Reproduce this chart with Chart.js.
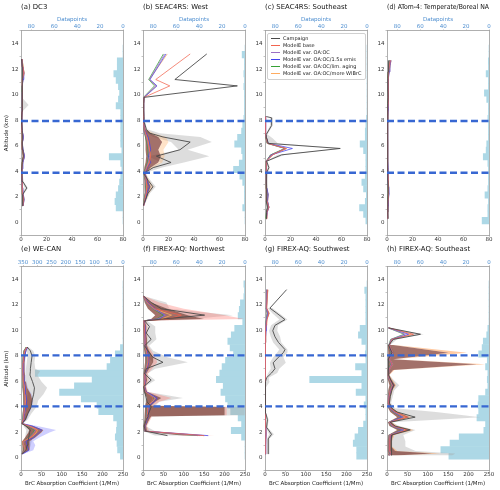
<!DOCTYPE html>
<html>
<head>
<meta charset="utf-8">
<script src="https://cdn.jsdelivr.net/npm/chart.js@4/dist/chart.umd.min.js"></script>
<style>
  body { margin: 0; background: #fff; width: 500px; height: 490px; position: relative; overflow: hidden; font-family: 'DejaVu Sans', sans-serif; }
  canvas { position: absolute; }
  #legend { position: absolute; left: 267px; top: 33px; width: 94px; padding: 1px 1px 1px 2px; border: 0.6px solid #d0d0d0; border-radius: 2px; background: rgba(255,255,255,0.85); font-size: 5px; line-height: 7.1px; color: #222; white-space: nowrap; }
  #legend span { display: inline-block; width: 9px; height: 0; vertical-align: middle; margin: 0 3px 1px 1px; }
</style>
</head>
<body>
<script>
// altitude bins of the datapoint histograms (km)
const histBins = [0.15, 0.65, 1.15, 1.65, 2.15, 2.65, 3.15, 3.65, 4.15, 4.65, 5.15, 5.65, 6.15, 6.65, 7.15, 7.65, 8.15, 8.65, 9.15, 9.65, 10.15, 10.65, 11.15, 11.65, 12.15, 12.65, 13.15, 13.65];

// (a) DC3
const altA = [1.3, 1.8, 2.2, 2.7, 3.2, 3.7, 4.2, 4.7, 5.2, 5.7, 6.2, 6.7, 7.2, 7.7, 8.2, 8.7, 9.2, 9.7, 10.2, 10.7, 11.2, 11.7, 12.2, 12.8];
const campA = [1, 1.5, 1.2, 4.5, 1.5, 0.8, 0.6, 1.0, 1.8, 1.5, 1.0, 1.2, 0.8, 0.6, 0.5, 0.8, 1.5, 1.0, 0.8, 0.8, 1.2, 1.0, 0.8, 0.5];
const campLoA = [0.5, 0.8, 0.6, 3, 0.8, 0.3, 0.3, 0.5, 1, 0.8, 0.5, 0.6, 0.4, 0.3, 0.2, 0.4, 0.5, 0.5, 0.4, 0.4, 0.6, 0.5, 0.4, 0.2];
const campHiA = [1.5, 2.2, 2, 5.5, 2.2, 1.3, 1, 1.5, 2.5, 2.2, 1.5, 1.8, 1.2, 1, 0.8, 1.5, 6, 1.6, 1.2, 1.2, 1.8, 1.5, 1.2, 0.8];
const baseA = [1.5, 2.0, 1.5, 1.2, 0.8, 0.6, 0.7, 1.0, 1.8, 1.2, 0.8, 1.0, 0.7, 0.6, 0.6, 0.8, 0.9, 0.8, 0.9, 1.0, 1.5, 2.2, 1.5, 0.8];
const oaocA = [1.2, 1.8, 1.3, 1.0, 0.7, 0.5, 0.6, 1.2, 2.6, 1.3, 0.8, 1.8, 0.7, 0.5, 0.5, 0.7, 0.8, 0.7, 0.8, 0.9, 1.3, 1.8, 1.2, 0.6];
const emisA = [1.6, 2.4, 1.8, 1.4, 1.0, 0.7, 0.8, 1.5, 2.8, 1.6, 1.0, 2.0, 0.9, 0.7, 0.7, 0.9, 1.0, 0.9, 1.0, 1.1, 1.6, 2.2, 1.5, 0.8];
const agingA = [1.1, 1.6, 1.2, 0.9, 0.6, 0.5, 0.5, 1.0, 2.2, 1.2, 0.7, 1.5, 0.6, 0.5, 0.5, 0.6, 0.7, 0.6, 0.7, 0.8, 1.2, 1.6, 1.1, 0.5];
const wlbrcA = [1.4, 2.1, 1.6, 1.2, 0.9, 0.7, 0.7, 1.3, 2.4, 1.4, 0.9, 1.8, 0.8, 0.6, 0.6, 0.8, 0.9, 0.8, 0.9, 1.0, 1.5, 2.4, 1.6, 0.9];
const modLoA = [0.8, 1.2, 0.9, 0.7, 0.5, 0.4, 0.4, 0.7, 1.6, 0.9, 0.5, 1.0, 0.5, 0.4, 0.4, 0.5, 0.6, 0.5, 0.6, 0.6, 1.0, 1.4, 0.9, 0.4];
const modHiA = [2.0, 2.8, 2.2, 1.7, 1.3, 1.0, 1.1, 1.8, 3.2, 1.9, 1.3, 2.3, 1.2, 1.0, 1.0, 1.2, 1.3, 1.2, 1.3, 1.4, 2.0, 2.8, 2.0, 1.2];
const countsA = [0, 0, 6, 7, 6, 4, 3, 2, 1, 2, 12, 1, 2, 2, 2, 2, 2, 2, 6, 4, 3, 4, 6, 8, 5, 5, 0, 0];

// (b) SEAC4RS: West
const altB = [1.3, 1.8, 2.3, 2.8, 3.3, 3.85, 4.3, 4.7, 5.2, 5.7, 6.3, 6.7, 7.0, 7.3, 7.8, 8.3, 8.8, 9.3, 9.8, 10.7, 11.2, 13.2];
const campB = [0, 2, 4, 7.8, 4, 0.5, 8, 22, 10.5, 29, 37, 15.7, 5.2, 2.6, 1.2, 0.8, 0.6, 0.6, 0.8, 74, 25, 50];
const campLoB = [0, 1, 2.5, 5, 2, 0.2, 4, 14, 4, 28, 22, 8, 3, 1.5, 0.8, 0.5, 0.4, 0.4, 0.5, null, null, null];
const campHiB = [0.5, 3, 5.5, 10, 6, 1, 15, 32, 52, 35, 54, 45, 13, 3.5, 1.6, 1.1, 0.8, 0.8, 1.0, null, null, null];
const baseB = [0.5, 1.5, 2.5, 3, 2.5, 1.2, 3, 5, 6, 5, 4, 3, 2, 1, 0.6, 0.5, 0.5, 0.5, 0.8, 21, 10, 37];
const oaocB = [0.3, 1.2, 2, 2.5, 2, 1.0, 2.5, 4, 5, 4.5, 3.5, 2.5, 1.5, 0.8, 0.5, 0.4, 0.4, 0.4, 0.7, 10, 5, 17];
const emisB = [0.5, 2, 3, 5, 3, 1.5, 3.5, 6, 4, 6, 5, 4, 2.5, 1.2, 0.7, 0.6, 0.6, 0.6, 0.9, 11, 5.5, 18];
const agingB = [0.3, 1, 1.8, 2.2, 1.8, 0.8, 2.2, 3.5, 4.5, 4, 3, 2.2, 1.3, 0.7, 0.4, 0.3, 0.3, 0.3, 0.6, 9, 4.5, 16];
const wlbrcB = [0.4, 1.4, 2.3, 2.8, 2.3, 1.1, 2.8, 4.5, 5.5, 5, 4, 3, 1.8, 0.9, 0.6, 0.5, 0.5, 0.5, 0.8, 10.5, 5, 19];
const modLoB = [0.2, 0.5, 1, 1.5, 1, 0.5, 1, 2, 2.5, 2, 2, 1.5, 0.8, 0.4, 0.3, 0.3, 0.3, 0.3, 0.5, null, null, null];
const modHiB = [0.8, 2.5, 4, 6, 4, 2, 6, 12, 14, 12, 15, 12, 6, 2, 1, 0.8, 0.8, 0.8, 1, null, null, null];
const modMaxB = [1, 3, 5, 8, 5, 2.5, 8, 15, 17, 16, 20, 18, 8, 2.5, 1.2, 1, 1, 1, 1.2, null, null, null];
const countsB = [0, 0, 2, 0.5, 0.5, 0.5, 2, 4.5, 10, 5, 2, 3, 9, 6.5, 3, 2, 1, 0.5, 0.5, 0.5, 0.5, 1, 0.5, 1, 0.5, 0.5, 2.5, 0];

// (c) SEAC4RS: Southeast
const altC = [0.3, 0.8, 1.2, 1.7, 2.2, 2.7, 3.2, 3.9, 4.3, 4.8, 5.3, 5.8, 6.2, 6.6, 6.9, 7.6, 8.2, 8.3];
const campC = [1.5, 1.2, 1.8, 1.0, 1.2, 1.5, 1.0, 1.5, 3, 1.3, 13, 59, 2.5, 1.5, 1, 5.2, 5.2, 1];
const campLoC = [1, 0.8, 1.2, 0.6, 0.8, 1, 0.6, 1, 2, 0.8, 10, 58, 1.5, 0.8, 0.5, 4, 4, 0.5];
const campHiC = [2, 1.6, 2.4, 1.4, 1.6, 2, 1.4, 2, 4, 1.8, 16, 60, 10, 6, 2, 6, 6, 1.5];
const baseC = [1, 1.5, 3, 1.5, 1.5, 1.2, 0.8, 0.8, 1, 1, 6, 16.5, 2, 1, 0.5, 0.5, 0.5, 0.5];
const oaocC = [0.8, 1.2, 2.5, 1.5, 2.2, 1, 0.7, 0.7, 0.8, 0.9, 5, 16, 1.8, 0.9, 0.4, 0.4, 0.4, 0.4];
const emisC = [1.2, 1.8, 3, 2, 2.5, 1.5, 1, 1, 1.2, 1.3, 5, 21.5, 2.5, 1.2, 0.6, 0.6, 0.6, 0.6];
const agingC = [0.7, 1.1, 2.3, 1.3, 2, 0.9, 0.6, 0.6, 0.7, 0.8, 4.5, 15.5, 1.6, 0.8, 0.4, 0.4, 0.4, 0.4];
const wlbrcC = [0.9, 1.4, 2.8, 1.6, 2.3, 1.1, 0.8, 0.8, 0.9, 1, 5.5, 17, 2, 1, 0.5, 0.5, 0.5, 0.5];
const modLoC = [0.5, 0.8, 1.8, 1, 1.5, 0.7, 0.5, 0.5, 0.6, 0.7, 4, 15, 1.5, 0.7, 0.3, 0.3, 0.3, 0.3];
const modHiC = [1.4, 2, 3.5, 2.2, 2.8, 1.6, 1.1, 1.1, 1.3, 1.4, 6.5, 17.5, 2.6, 1.3, 0.7, 0.7, 0.7, 0.7];
const countsC = [1, 3, 6.5, 1.5, 0.6, 3, 4.5, 1.5, 1, 1, 1, 3, 6, 1.5, 1.5, 1, 0.5, 0, 0, 0, 0, 0, 0, 0, 0, 0, 0, 0];

// (d) ATom-4: Temperate/Boreal NA
const altD = [0.3, 0.8, 1.3, 1.8, 2.3, 2.8, 3.3, 3.8, 4.3, 4.8, 5.3, 5.8, 6.3, 6.8, 7.3, 7.8, 8.3, 8.8, 9.3, 9.8, 10.3, 10.8, 11.3, 11.8, 12.3, 12.7];
const campD = [0.8, 0.6, 0.7, 0.6, 0.8, 0.9, 0.7, 0.5, 0.6, 0.6, 0.5, 0.5, 0.6, 0.5, 0.5, 0.5, 0.6, 0.6, 0.7, 0.8, 0.7, 0.7, 0.6, 0.8, 1.0, 1.2];
const campLoD = [0.4, 0.3, 0.3, 0.3, 0.4, 0.4, 0.3, 0.2, 0.3, 0.3, 0.2, 0.2, 0.3, 0.2, 0.2, 0.2, 0.3, 0.3, 0.3, 0.4, 0.3, 0.3, 0.3, 0.4, 0.5, 0.6];
const campHiD = [1.2, 0.9, 1.1, 0.9, 1.2, 1.4, 1.1, 0.8, 0.9, 0.9, 0.8, 0.8, 0.9, 0.8, 0.8, 0.8, 0.9, 0.9, 1.1, 1.2, 1.1, 1.1, 0.9, 1.2, 1.5, 1.8];
const baseD = [0.4, 0.5, 0.7, 0.9, 1.3, 1.1, 0.9, 0.7, 0.6, 0.5, 0.6, 0.5, 0.5, 0.4, 0.4, 0.5, 0.6, 0.7, 0.9, 1.1, 0.9, 0.8, 0.9, 1.4, 1.9, 2.6];
const oaocD = [0.3, 0.4, 0.6, 0.8, 1.1, 0.9, 0.7, 0.6, 0.5, 0.4, 0.5, 0.4, 0.4, 0.3, 0.3, 0.4, 0.5, 0.6, 0.8, 0.9, 0.8, 0.7, 0.8, 1.2, 1.6, 2.2];
const emisD = [0.5, 0.6, 0.9, 1.1, 1.6, 1.4, 1.1, 0.9, 0.8, 0.6, 0.7, 0.6, 0.6, 0.5, 0.5, 0.6, 0.7, 0.9, 1.1, 1.3, 1.1, 1.0, 1.1, 1.7, 2.3, 3.0];
const agingD = [0.3, 0.4, 0.5, 0.7, 1.0, 0.8, 0.6, 0.5, 0.4, 0.4, 0.4, 0.4, 0.4, 0.3, 0.3, 0.4, 0.4, 0.5, 0.7, 0.8, 0.7, 0.6, 0.7, 1.1, 1.5, 2.0];
const wlbrcD = [0.4, 0.6, 0.8, 1.0, 1.5, 1.2, 1.0, 0.8, 0.7, 0.5, 0.6, 0.5, 0.5, 0.4, 0.4, 0.5, 0.6, 0.8, 1.0, 1.2, 1.0, 0.9, 1.0, 1.6, 2.2, 2.8];
const modLoD = [0.2, 0.3, 0.4, 0.5, 0.8, 0.6, 0.5, 0.4, 0.3, 0.3, 0.3, 0.3, 0.3, 0.2, 0.2, 0.3, 0.3, 0.4, 0.5, 0.6, 0.5, 0.5, 0.5, 0.9, 1.2, 1.6];
const modHiD = [0.6, 0.8, 1.1, 1.3, 1.9, 1.7, 1.3, 1.1, 1.0, 0.8, 0.9, 0.8, 0.8, 0.7, 0.7, 0.8, 0.9, 1.1, 1.3, 1.5, 1.3, 1.2, 1.3, 2.0, 2.8, 3.6];
const countsD = [6, 1, 1, 0.5, 3.5, 1, 0.5, 0.5, 0.5, 1, 5, 2.5, 2, 0.5, 0.5, 0.5, 1, 0.5, 0.5, 2, 4, 0.5, 0.5, 2.5, 0.5, 0.6, 0, 0];

// (e) WE-CAN
const altE = [0.3, 0.6, 1.0, 1.3, 1.6, 2.0, 2.2, 2.5, 2.7, 3.0, 3.5, 4.0, 4.5, 5.0, 5.5, 6.0, 6.5, 6.8, 7.0, 7.5, 8.0, 8.4, 8.7];
const campE = [2.5, 12, 15, 17, 19, 21, 23, 12, 2.5, 10.6, 17, 25, 27, 31, 33, 28, 22, 23, 23, 25, 27, 23, 15];
const campLoE = [1, 6, 8, 9, 10, 12, 13, 6, 1, 5, 8, 12, 14, 16, 15, 12, 10, 10, 12, 14, 16, 14, 10];
const campHiE = [4, 20, 24, 26, 28, 30, 34, 20, 4, 16, 26, 38, 42, 55, 64, 50, 40, 47, 35, 33, 35, 30, 18];
const baseE = [2.5, 10.6, 6, 4, 23, 35, 39, 20, 2.5, 5, 7, 9, 10, 9, 8, 6, 5, 4.5, 4.5, 5, 6.5, 9, 15];
const oaocE = [2, 9, 7, 6, 20, 32, 36, 18, 2, 4.5, 6, 8, 9, 8, 7, 5.5, 4.5, 4, 4, 4.5, 6, 8, 14];
const emisE = [3, 19, 15, 12, 31, 45, 51, 28, 3, 7, 9, 12, 14, 12, 11, 8, 7, 6, 6, 7, 9, 12, 16];
const agingE = [2, 8, 6, 5, 18, 30, 33, 16, 2, 4, 5.5, 7.5, 8.5, 7.5, 6.5, 5, 4.2, 3.8, 3.8, 4.2, 5.5, 7.5, 13];
const wlbrcE = [2.5, 11, 7, 5, 24, 38, 40, 21, 2.5, 5.5, 7.5, 9.5, 11, 10, 8.5, 6.5, 5.5, 5, 5, 5.5, 7, 10, 15.5];
const modLoE = [1.5, 4, 3, 3, 10, 18, 20, 10, 1.5, 3, 4, 5, 6, 5, 4.5, 3.5, 3, 2.5, 2.5, 3, 4, 6, 12];
const modHiE = [4, 20, 22, 20, 35, 50, 55, 30, 4, 12, 18, 25, 28, 24, 15, 12, 10, 9, 9, 9, 11, 13, 17];
const modMaxE = [5, 30, 35, 30, 45, 70, 86, 40, 5, 14, 20, 27, 30, 26, 17, 13, 11, 10, 10, 10, 12, 14, 18];
const countsE = [9, 19, 21, 27, 23, 21, 33, 85, 91, 146, 222, 170, 108, 307, 56, 44, 27, 9, 0, 0, 0, 0, 0, 0, 0, 0, 0, 0];

// (f) FIREX-AQ: Northwest
const altF = [1.75, 2.1, 2.5, 3.0, 3.25, 3.35, 4.0, 4.1, 4.4, 4.7, 5.2, 5.6, 6.1, 6.6, 7.0, 7.5, 7.9, 8.4, 8.8, 9.3, 9.8, 10.3, 10.75, 10.9, 11.2, 11.7, 12.2, 12.7];
const campF = [60, 6, 3, 8, 12, 12, 20, 18, 10, 8, 4, 1.6, 20, 4, 8, 49, 24, 12, 4, 20, 8, 16, 4, 50, 151, 45, 20, 1];
const campLoF = [30, 2, 1, 3, 4, 4, 6, 6, 4, 3, 1, 0.5, 8, 1, 3, 25, 10, 5, 1, 8, 3, 6, 1, 20, 90, 25, 8, 0];
const campHiF = [100, 30, 6, 15, 15, 249, 249, 30, 40, 98, 10, 5, 30, 10, 30, 110, 60, 25, 15, 33, 30, 30, 10, 120, 220, 65, 57, 2];
const baseF = [150, 5, 4, 8, 10, 10, 12, 12, 20, 25, 6, 3, 5, 4, 8, 12, 12, 8, 5, 5, 4, 4, 2, 60, 94, 28, 10, 1];
const oaocF = [140, 4, 3, 7, 9, 9, 11, 11, 22, 30, 5, 2.5, 4, 3.5, 7, 10, 10, 7, 4, 4, 3.5, 3.5, 1.5, 35, 55, 25, 8, 0.8];
const emisF = [160, 6, 5, 10, 13, 13, 15, 15, 28, 35, 7, 4, 6, 5, 10, 14, 14, 10, 6, 6, 5, 5, 2.5, 40, 53, 30, 12, 1.2];
const agingF = [135, 4, 3, 6.5, 8.5, 8.5, 10, 10, 20, 27, 5, 2.5, 4, 3.5, 6.5, 9.5, 9.5, 6.5, 4, 4, 3.5, 3.5, 1.5, 33, 50, 24, 8, 0.8];
const wlbrcF = [150, 5, 4, 8.5, 11, 11, 13, 13, 23, 30, 6, 3, 5, 4.5, 8.5, 12, 12, 8.5, 5, 5, 4, 4, 2, 45, 70, 27, 10, 1];
const modLoF = [100, 2, 1, 3, 4, 4, 5, 5, 8, 10, 2, 1, 2, 1.5, 3, 5, 5, 3, 2, 2, 1.5, 1.5, 0.5, 20, 30, 12, 4, 0.3];
const modHiF = [150, 10, 8, 15, 20, 200, 200, 20, 30, 45, 10, 6, 10, 8, 15, 25, 25, 15, 10, 10, 8, 8, 5, 150, 110, 60, 20, 2];
const modMaxF = [175, 15, 10, 18, 22, 205, 205, 25, 40, 70, 12, 8, 14, 12, 22, 35, 30, 20, 12, 12, 10, 10, 8, 248, 200, 100, 40, 3];
const countsF = [0, 0, 0, 3, 12, 3, 6, 12.5, 15, 17, 21, 19, 25, 22, 20, 17, 10, 13, 15, 12, 9, 2, 6, 5, 4, 1, 0.5, 1];

// (g) FIREX-AQ: Southwest
const altG = [0.3, 0.8, 1.5, 1.85, 2.4, 3.0, 3.5, 4.0, 4.5, 5.0, 5.5, 6.0, 6.3, 6.66, 7.0, 7.46, 7.9, 8.26, 8.5, 9.06, 9.5, 9.98, 10.4, 10.85, 11.35, 11.75, 13.2];
const campG = [8, 8, 8, 16, 4, 6, 2, 1.5, 1.5, 1, 1, 1.5, 4, 16, 24.5, 20, 33, 45, 49, 33, 24.5, 19, 24.5, 49, 29, 12, 53];
const campLoG = [5, 5, 5, 10, 2, 3, 1, 0.5, 0.5, 0.5, 0.5, 0.5, 2, 8, 14, 12, 20, 30, 35, 20, 14, 10, 15, 35, 18, 6, null];
const campHiG = [11, 11, 11, 22, 6, 9, 3, 2.5, 2.5, 1.5, 1.5, 12, 10, 30, 35, 51, 45, 55, 55, 40, 37, 30, 32, 55, 35, 18, null];
const baseG = [1, 1.5, 2, 2.5, 2, 1.5, 1, 0.8, 0.6, 0.5, 0.5, 0.5, 0.5, 0.6, 0.8, 1, 1.2, 1.5, 1.5, 1.8, 2, 2.2, 3, 5, 10, 4, 6];
const oaocG = [0.8, 1.2, 1.6, 2, 1.6, 1.2, 0.8, 0.6, 0.5, 0.4, 0.4, 0.4, 0.4, 0.5, 0.6, 0.8, 1, 1.2, 1.2, 1.5, 1.6, 1.8, 2, 3.5, 6, 3, 4];
const emisG = [1.2, 1.8, 2.4, 3, 2.4, 1.8, 1.2, 1, 0.8, 0.6, 0.6, 0.6, 0.6, 0.7, 0.9, 1.2, 1.5, 1.8, 1.8, 2.2, 2.4, 2.6, 3, 4.5, 7, 3.5, 5];
const agingG = [0.7, 1.1, 1.5, 1.9, 1.5, 1.1, 0.7, 0.6, 0.5, 0.4, 0.4, 0.4, 0.4, 0.5, 0.6, 0.7, 0.9, 1.1, 1.1, 1.4, 1.5, 1.7, 1.9, 3.3, 5.5, 2.8, 3.8];
const wlbrcG = [1, 1.4, 1.9, 2.4, 1.9, 1.4, 1, 0.8, 0.6, 0.5, 0.5, 0.5, 0.5, 0.6, 0.8, 1, 1.2, 1.4, 1.4, 1.7, 1.9, 2.1, 2.5, 4.5, 8, 4, 7];
const modLoG = [0.4, 0.7, 1, 1.3, 1, 0.7, 0.4, 0.3, 0.3, 0.2, 0.2, 0.2, 0.2, 0.3, 0.4, 0.5, 0.6, 0.8, 0.8, 1, 1.1, 1.2, 1.4, 2.5, 4, 2, 3];
const modHiG = [1.6, 2.3, 3, 3.6, 3, 2.3, 1.6, 1.3, 1, 0.8, 0.8, 0.8, 0.8, 0.9, 1.2, 1.5, 1.8, 2.2, 2.2, 2.6, 2.9, 3.1, 3.6, 5.5, 11, 4.5, 8];
const countsG = [9, 9, 12, 10.5, 7.5, 3, 1, 1, 2.5, 1, 9.5, 4.5, 50, 4.5, 10, 1, 1.5, 1, 4.5, 7.5, 6, 1, 1, 1, 1, 1, 2, 0];

// (h) FIREX-AQ: Southeast
const altH = [0.2, 0.35, 0.55, 0.9, 1.3, 1.8, 2.2, 2.5, 2.8, 3.2, 3.6, 3.9, 4.3, 4.8, 5.3, 5.7, 6.2, 6.5, 6.9, 7.35, 7.75, 8.25, 8.85, 9.3, 9.7, 10.2];
const campH = [10.6, 10.6, 10.6, 10.6, 12, 12, 57, 20, 8, 69, 25, 12, 6, 8, 12, 16, 8, 4, 3, 3, 4, 12, 4, 16, 82, 4];
const campLoH = [5, 5, 5, 5, 6, 6, 30, 10, 4, 40, 12, 6, 3, 4, 6, 8, 4, 2, 1.5, 1.5, 2, 6, 2, 8, 60, 2];
const campHiH = [160, 167, 70, 45, 45, 40, 70, 30, 12, 229, 120, 20, 10, 14, 18, 30, 14, 6, 5, 5, 6, 18, 8, 25, 90, 6];
const baseH = [6, 10, 6, 6, 6, 8, 50, 15, 6, 50, 20, 8, 4, 5, 8, 14, 6, 3, 5, 12, 6, 12, 6, 12, 65, 4];
const oaocH = [5, 8, 5, 5, 5, 7, 40, 12, 5, 40, 16, 6, 3, 4, 7, 12, 5, 2.5, 4, 10, 5, 10, 5, 10, 45, 3];
const emisH = [6, 10, 6, 6, 6, 9, 41, 14, 6, 37, 18, 7, 4, 5, 9, 15, 6, 3, 5, 13, 6, 13, 6, 12, 53, 4];
const agingH = [5, 8, 5, 5, 5, 7, 38, 11, 5, 38, 15, 6, 3, 4, 7, 11, 5, 2.5, 4, 9, 5, 9, 5, 9, 42, 3];
const wlbrcH = [6, 11, 6, 6, 6, 8, 45, 14, 6, 45, 19, 7, 4, 5, 8, 13, 6, 3, 5, 14, 6, 14, 6, 11, 58, 4];
const modLoH = [2, 3, 2, 2, 2, 3, 25, 6, 2, 25, 8, 3, 1.5, 2, 3, 6, 2, 1, 1.5, 3, 2, 3, 2, null, null, null];
const modHiH = [20, 110, 20, 10, 10, 15, 55, 20, 10, 55, 25, 12, 6, 8, 12, 20, 10, 5, 15, 220, 15, 151, 15, null, null, null];
const modMaxH = [25, 130, 25, 12, 12, 18, 65, 25, 12, 60, 28, 14, 7, 9, 14, 22, 12, 6, 18, 241, 18, 196, 18, null, null, null];
const countsH = [35, 42, 34, 26, 4.5, 3, 10.5, 9, 9.5, 9, 3, 1, 1.5, 1, 3, 1.5, 9, 6, 5, 2, 1, 0, 0, 0, 0, 0, 0, 0];

const panelTitles = ['(a) DC3', '(b) SEAC4RS: West', '(c) SEAC4RS: Southeast', '(d) ATom-4: Temperate/Boreal NA',
  '(e) WE-CAN', '(f) FIREX-AQ: Northwest', '(g) FIREX-AQ: Southwest', '(h) FIREX-AQ: Southeast'];
const seriesNames = ['Campaign', 'ModelE base', 'ModelE var. OA:OC', 'ModelE var. OA:OC/1.5x emis',
  'ModelE var. OA:OC/lim. aging', 'ModelE var. OA:OC/more WlBrC'];
const brcMax = [80, 80, 80, 80, 250, 250, 250, 250];
const brcStep = [20, 20, 20, 20, 50, 50, 50, 50];
const countMax = [89, 89, 89, 89, 357, 89, 89, 89];
const countStep = [20, 20, 20, 20, 50, 20, 20, 20];
const dashTop = [3.9, 7.95];
const dashBottom = [4.05, 8.05];

// styles
const FONT = "'DejaVu Sans', sans-serif";
const seriesColors = ['#4a4a4a', '#f2644f', '#9b6fc4', '#4343ee', '#36a136', '#ffac60'];
const blueText = '#4f8fd0';
const dashColor = '#3767d2';
const spine = '#9a9a9a';
const fringeColors = [null, 'rgba(255,175,100,0.35)', null, null, 'rgba(95,95,255,0.3)', 'rgba(255,115,105,0.35)', null, 'rgba(255,150,70,0.5)'];

const panels = [
  { alt: altA, camp: campA, campLo: campLoA, campHi: campHiA, models: [baseA, oaocA, emisA, agingA, wlbrcA], modLo: modLoA, modHi: modHiA, modMax: null, counts: countsA },
  { alt: altB, camp: campB, campLo: campLoB, campHi: campHiB, models: [baseB, oaocB, emisB, agingB, wlbrcB], modLo: modLoB, modHi: modHiB, modMax: modMaxB, counts: countsB },
  { alt: altC, camp: campC, campLo: campLoC, campHi: campHiC, models: [baseC, oaocC, emisC, agingC, wlbrcC], modLo: modLoC, modHi: modHiC, modMax: null, counts: countsC },
  { alt: altD, camp: campD, campLo: campLoD, campHi: campHiD, models: [baseD, oaocD, emisD, agingD, wlbrcD], modLo: modLoD, modHi: modHiD, modMax: null, counts: countsD },
  { alt: altE, camp: campE, campLo: campLoE, campHi: campHiE, models: [baseE, oaocE, emisE, agingE, wlbrcE], modLo: modLoE, modHi: modHiE, modMax: modMaxE, counts: countsE },
  { alt: altF, camp: campF, campLo: campLoF, campHi: campHiF, models: [baseF, oaocF, emisF, agingF, wlbrcF], modLo: modLoF, modHi: modHiF, modMax: modMaxF, counts: countsF },
  { alt: altG, camp: campG, campLo: campLoG, campHi: campHiG, models: [baseG, oaocG, emisG, agingG, wlbrcG], modLo: modLoG, modHi: modHiG, modMax: null, counts: countsG },
  { alt: altH, camp: campH, campLo: campLoH, campHi: campHiH, models: [baseH, oaocH, emisH, agingH, wlbrcH], modLo: modLoH, modHi: modHiH, modMax: modMaxH, counts: countsH }
];

// layout of the 2x4 grid (chart area left edges, row tops)
const areaLefts = [21, 143, 265, 387];
const rowTops = [0, 242];
const rowHeights = [245, 248];
const yAxisW = 20, rightW = 10, plotW = 102;

function pts(alts, vals) {
  return alts.map((a, k) => ({ x: vals[k], y: a }));
}

function bandPair(alt, lo, hi, color, order) {
  return [
    { data: pts(alt, lo), borderColor: 'rgba(0,0,0,0)', borderWidth: 1, pointRadius: 0, fill: false, order: order },
    { data: pts(alt, hi), borderColor: 'rgba(0,0,0,0)', borderWidth: 1, pointRadius: 0, fill: '-1', backgroundColor: color, order: order }
  ];
}

function buildDatasets(p, i) {
  const ds = [];
  const levels = i < 4 ? dashTop : dashBottom;
  levels.forEach(v => {
    ds.push({ data: [{ x: 0, y: v }, { x: brcMax[i], y: v }], borderColor: dashColor, borderWidth: 2.3, borderDash: [7, 3.5], pointRadius: 0, order: 0 });
  });
  ds.push({ data: pts(p.alt, p.camp), borderColor: seriesColors[0], borderWidth: 0.9, pointRadius: 0, order: 1 });
  p.models.forEach((m, s) => {
    ds.push({ data: pts(p.alt, m), borderColor: seriesColors[s + 1], borderWidth: 0.75, pointRadius: 0, order: 2 });
  });
  ds.push(...bandPair(p.alt, p.modLo, p.modHi, 'rgba(128,58,48,0.72)', 5));
  if (p.modMax) {
    ds.push({ data: pts(p.alt, p.modMax), borderColor: 'rgba(0,0,0,0)', borderWidth: 1, pointRadius: 0, fill: '-1', backgroundColor: fringeColors[i], order: 5 });
  }
  ds.push(...bandPair(p.alt, p.campLo, p.campHi, 'rgba(165,165,165,0.38)', 6));
  ds.push({
    type: 'bar', xAxisID: 'x2', yAxisID: 'y', indexAxis: 'y',
    data: histBins.map((b, k) => ({ x: p.counts[k], y: b })),
    backgroundColor: '#add8e6', borderWidth: 0, barPercentage: 1, categoryPercentage: 1, order: 10
  });
  ds.forEach(d => {
    if (!d.type) { d.type = 'line'; d.xAxisID = 'x'; d.yAxisID = 'y'; d.indexAxis = 'y'; }
  });
  return ds;
}

const tickFont = { family: FONT, size: 5.5, lineHeight: 1 };
const labelFont = { family: FONT, size: 5.5 };

panels.forEach((p, i) => {
  const row = i < 4 ? 0 : 1;
  const col = i % 4;
  const w = yAxisW + plotW + rightW;
  const h = rowHeights[row];
  const cv = document.createElement('canvas');
  cv.width = w; cv.height = h;
  cv.style.left = (areaLefts[col] - yAxisW) + 'px';
  cv.style.top = rowTops[row] + 'px';
  cv.style.width = w + 'px';
  cv.style.height = h + 'px';
  document.body.appendChild(cv);

  const gridOpts = { display: true, drawOnChartArea: false, drawTicks: true, tickLength: 1.5, color: spine, lineWidth: 0.6 };
  const borderOpts = { display: true, color: spine, width: 0.8 };

  new Chart(cv.getContext('2d'), {
    type: 'line',
    data: { datasets: buildDatasets(p, i) },
    options: {
      responsive: false,
      animation: false,
      devicePixelRatio: 1,
      events: [],
      indexAxis: 'y',
      layout: { padding: 0 },
      plugins: {
        legend: { display: false },
        tooltip: { enabled: false },
        title: {
          display: true, text: panelTitles[i], align: 'start', fullSize: false,
          font: { family: FONT, size: 6.9, weight: 'normal' }, color: '#111',
          padding: { top: 3, bottom: 0 }
        }
      },
      scales: {
        x: {
          type: 'linear', position: 'bottom', min: 0, max: brcMax[i],
          ticks: { stepSize: brcStep[i], includeBounds: false, autoSkip: false, maxRotation: 0, font: tickFont, color: '#333', padding: 0 },
          grid: gridOpts, border: borderOpts,
          title: { display: row === 1, text: 'BrC Absorption Coefficient (1/Mm)', font: labelFont, color: '#222', padding: { top: 0, bottom: 3.2 } },
          afterFit: s => { s.height = row === 0 ? 9.7 : 19.3; }
        },
        x2: {
          type: 'linear', position: 'top', reverse: true, min: 0, max: countMax[i],
          ticks: { stepSize: countStep[i], includeBounds: false, autoSkip: false, maxRotation: 0, font: tickFont, color: blueText, padding: 0 },
          grid: gridOpts, border: borderOpts,
          title: { display: row === 0, text: 'Datapoints', font: labelFont, color: blueText, padding: { top: 5.4, bottom: 0 } },
          afterFit: s => { s.height = row === 0 ? 19.7 : 13.4; }
        },
        y: {
          type: 'linear', position: 'left', min: 0, max: 14,
          ticks: { stepSize: 2, font: tickFont, color: '#333', padding: 1 },
          grid: gridOpts, border: borderOpts,
          title: { display: col === 0, text: 'Altitude (km)', font: labelFont, color: '#222', padding: { top: 2.7, bottom: 0 } },
          afterFit: s => { s.width = yAxisW; }
        },
        y2: {
          type: 'linear', position: 'right', min: 0, max: 14,
          ticks: { display: false },
          grid: { display: false, drawTicks: false },
          border: borderOpts,
          afterFit: s => { s.width = rightW; }
        }
      }
    }
  });
});

// legend inside panel (c)
const legend = document.createElement('div');
legend.id = 'legend';
seriesNames.forEach((name, s) => {
  const rowDiv = document.createElement('div');
  const mark = document.createElement('span');
  mark.style.borderTop = '1px solid ' + seriesColors[s];
  rowDiv.appendChild(mark);
  rowDiv.appendChild(document.createTextNode(name));
  legend.appendChild(rowDiv);
});
document.body.appendChild(legend);
</script>
</body>
</html>
